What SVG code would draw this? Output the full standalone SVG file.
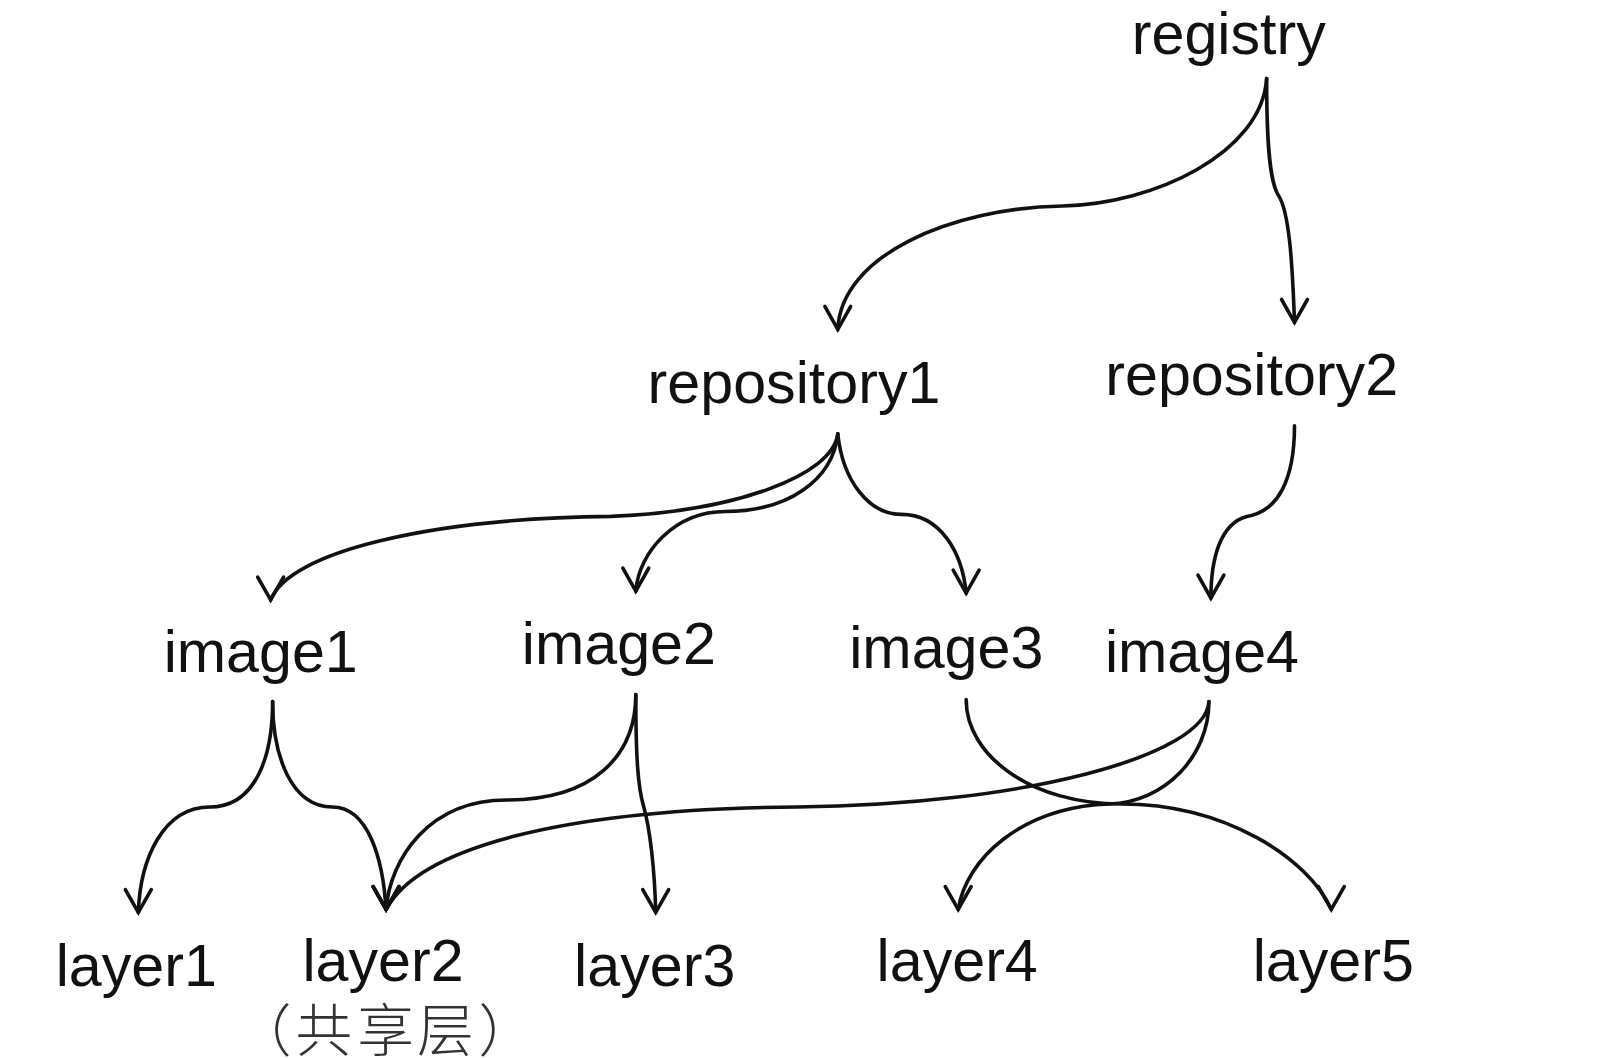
<svg xmlns="http://www.w3.org/2000/svg" width="1602" height="1058" viewBox="0 0 1602 1058">
<style>
.lbl{font-family:"Liberation Sans",Arial,sans-serif;font-size:59.5px;fill:#111;text-anchor:middle}
.cjk{font-family:"Noto Sans CJK SC","Noto Sans CJK TC",sans-serif;font-size:57px;font-weight:300;fill:#333;text-anchor:start;text-spacing-trim:space-all;font-kerning:none}
.edge{fill:none;stroke:#111;stroke-width:3.6;stroke-linecap:round}
</style>
<defs>
<marker id="arr" markerUnits="userSpaceOnUse" markerWidth="40" markerHeight="40" viewBox="-20 -30 40 40" refX="0" refY="0" orient="0" overflow="visible">
<path d="M-13,-23 L0,0 L13,-23" fill="none" stroke="#111" stroke-width="3.6" stroke-linecap="round" stroke-linejoin="miter"/>
</marker>
</defs>
<rect width="1602" height="1058" fill="#fff"/>
<g transform="scale(0.995)">
<g id="connectors">
<path class="edge" marker-end="url(#arr)" d="M1273,79 C1268,154 1160,205 1068,207 C955,209 845,257 842,331"/>
<path class="edge" marker-end="url(#arr)" d="M1273,79 C1273,144 1276,180 1284,195 C1296,211 1299,267 1301,324"/>
<path class="edge" marker-end="url(#arr)" d="M842,436 C837,478 739,514 614,519 C431,521 290,555 272,603"/>
<path class="edge" marker-end="url(#arr)" d="M842,436 C837,483 791,514 729,514 C678,514 642,555 639,594"/>
<path class="edge" marker-end="url(#arr)" d="M842,436 C847,483 873,517 906,517 C945,517 967,555 971,596"/>
<path class="edge" marker-end="url(#arr)" d="M1301,428 C1301,483 1284,514 1253,519 C1227,526 1217,560 1217,601"/>
<path class="edge" marker-end="url(#arr)" d="M274,705 C274,760 257,811 211,811 C164,811 141,863 139,917"/>
<path class="edge" marker-end="url(#arr)" d="M274,705 C274,760 293,811 334,811 C370,811 385,863 388,914"/>
<path class="edge" marker-end="url(#arr)" d="M639,698 C639,760 596,804 509,804 C431,804 392,863 388,914"/>
<path class="edge" marker-end="url(#arr)" d="M639,698 C639,760 641,791 647,811 C653,832 658,873 659,917"/>
<path class="edge" marker-end="url(#arr)" d="M1215,705 C1212,760 1027,809 801,811 C565,813 421,852 388,914"/>
<path class="edge" marker-end="url(#arr)" d="M1215,705 C1215,760 1171,806 1115,808 C1027,811 971,863 963,914"/>
<path class="edge" marker-end="url(#arr)" d="M971,703 C971,760 1037,808 1127,808 C1232,808 1315,863 1338,914"/>
</g>
<g id="registry"><text class="lbl" x="1235" y="54">registry</text></g>
<g id="repository1"><text class="lbl" x="798" y="405">repository1</text></g>
<g id="repository2"><text class="lbl" x="1258" y="397">repository2</text></g>
<g id="image1"><text class="lbl" x="262" y="675">image1</text></g>
<g id="image2"><text class="lbl" x="622" y="667">image2</text></g>
<g id="image3"><text class="lbl" x="951" y="671">image3</text></g>
<g id="image4"><text class="lbl" x="1208" y="675">image4</text></g>
<g id="layer1"><text class="lbl" x="137" y="991">layer1</text></g>
<g id="layer2"><text class="lbl" x="385" y="986">layer2</text><text class="cjk" x="236 297 359 419 481" y="1056">（共享层）</text></g>
<g id="layer3"><text class="lbl" x="658" y="991">layer3</text></g>
<g id="layer4"><text class="lbl" x="962" y="986">layer4</text></g>
<g id="layer5"><text class="lbl" x="1340" y="986">layer5</text></g>
</g>
</svg>
